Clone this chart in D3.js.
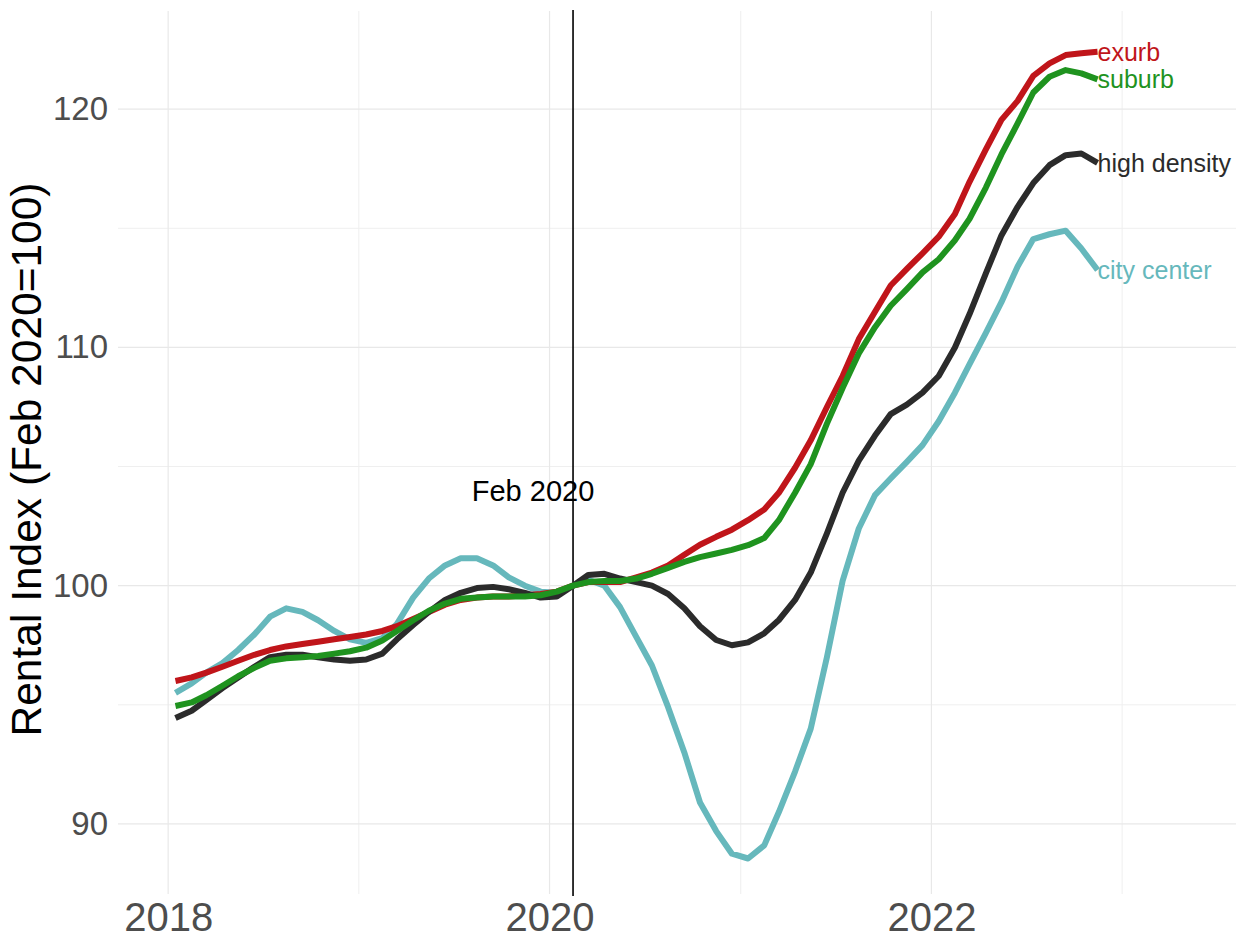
<!DOCTYPE html>
<html>
<head>
<meta charset="utf-8">
<script src="https://cdn.jsdelivr.net/npm/d3@7"></script>
<style>
  html, body { margin: 0; padding: 0; background: #ffffff; }
  svg { display: block; font-family: "Liberation Sans", Arial, Helvetica, sans-serif; }
</style>
</head>
<body>
<svg id="chart" width="1236" height="941"></svg>
<script>
// ---- Data (monthly, Jan 2018 .. Nov 2022) ----
const startYear = 2018;
const startMonth = 0; // January
const seriesNames = ["city center", "exurb", "high density", "suburb"];
const cityCenter = [95.5, 95.9, 96.35, 96.75, 97.3, 97.95, 98.7, 99.05, 98.9, 98.55,
  98.1, 97.75, 97.6, 97.8, 98.4, 99.5, 100.3, 100.85, 101.15, 101.15,
  100.85, 100.35, 100.0, 99.75, 99.7, 100.0, 100.25, 100.0, 99.1, 97.85,
  96.65, 94.9, 93.0, 90.9, 89.7, 88.75, 88.55, 89.1, 90.5, 92.2,
  94.0, 97.0, 100.2, 102.4, 103.8, 104.5, 105.2, 105.9, 106.9, 108.1,
  109.3, 110.6, 111.9, 113.4, 114.55, 114.75, 114.9, 114.15, 113.25];
const exurb = [96.0, 96.15, 96.35, 96.6, 96.85, 97.1, 97.3, 97.45, 97.55, 97.65,
  97.75, 97.85, 97.95, 98.1, 98.3, 98.6, 98.9, 99.2, 99.4, 99.5,
  99.55, 99.55, 99.6, 99.65, 99.75, 100.0, 100.15, 100.15, 100.15, 100.35,
  100.55, 100.85, 101.3, 101.72, 102.05, 102.35, 102.75, 103.2, 103.9, 104.95,
  106.1, 107.5, 108.8, 110.35, 111.5, 112.6, 113.3, 113.95, 114.65, 115.6,
  116.95, 118.3, 119.55, 120.35, 121.4, 121.92, 122.27, 122.35, 122.41];
const highDensity = [94.45, 94.75, 95.2, 95.7, 96.15, 96.6, 97.0, 97.1, 97.1, 97.0,
  96.9, 96.85, 96.9, 97.15, 97.75, 98.35, 98.9, 99.4, 99.7, 99.9,
  99.95, 99.85, 99.7, 99.5, 99.55, 100.0, 100.45, 100.5, 100.3, 100.15,
  100.0, 99.65, 99.05, 98.3, 97.72, 97.5, 97.62, 98.0, 98.56, 99.4,
  100.55, 102.2, 103.9, 105.25, 106.3, 107.2, 107.6, 108.1, 108.8, 110.0,
  111.4, 113.1, 114.7, 115.9, 116.9, 117.65, 118.07, 118.14, 117.75];
const suburb = [94.95, 95.1, 95.4, 95.8, 96.2, 96.55, 96.85, 96.95, 97.0, 97.05,
  97.15, 97.25, 97.4, 97.7, 98.1, 98.55, 98.95, 99.25, 99.45, 99.5,
  99.55, 99.55, 99.55, 99.6, 99.75, 100.0, 100.15, 100.2, 100.2, 100.3,
  100.5, 100.75, 101.0, 101.2, 101.35, 101.5, 101.7, 102.0, 102.75, 103.9,
  105.1, 106.8, 108.3, 109.75, 110.85, 111.75, 112.45, 113.15, 113.7, 114.5,
  115.4, 116.7, 118.1, 119.4, 120.7, 121.36, 121.64, 121.5, 121.25];
const seriesColors = ["#66b8bc", "#c0151a", "#2b2b2b", "#1f931f"];
const xTickYears = [2018, 2020, 2022];
const xMinorYears = [2019, 2021, 2023];
const yTicks = [90, 100, 110, 120];
const yMinorTicks = [95, 105, 115];
const eventDate = new Date(2020, 1, 15);
const eventLabel = "Feb 2020";
const yTitle = "Rental Index (Feb 2020=100)";

// ---- Build table ----
const seriesValues = [cityCenter, exurb, highDensity, suburb];
const series = seriesNames.map((name, k) => ({
  name,
  color: seriesColors[k],
  points: seriesValues[k].map((v, i) => ({ date: new Date(startYear, startMonth + i, 15), value: v }))
}));

// ---- Layout ----
const svg = d3.select("#chart");
const panel = { left: 118, right: 1236, top: 11, bottom: 894 };

const x = d3.scaleTime()
  .domain([new Date(2017, 8, 27), new Date(2023, 7, 7)])
  .range([panel.left, panel.right]);
const y = d3.scaleLinear()
  .domain([87.06, 124.12])
  .range([panel.bottom, panel.top]);

// Grid
const grid = svg.append("g");
grid.selectAll("line.ymin").data(yMinorTicks).join("line")
  .attr("x1", panel.left).attr("x2", panel.right)
  .attr("y1", d => y(d)).attr("y2", d => y(d))
  .attr("stroke", "#efefef").attr("stroke-width", 1);
grid.selectAll("line.xmin").data(xMinorYears).join("line")
  .attr("x1", d => x(new Date(d, 0, 1))).attr("x2", d => x(new Date(d, 0, 1)))
  .attr("y1", panel.top).attr("y2", panel.bottom)
  .attr("stroke", "#efefef").attr("stroke-width", 1);
grid.selectAll("line.ymaj").data(yTicks).join("line")
  .attr("x1", panel.left).attr("x2", panel.right)
  .attr("y1", d => y(d)).attr("y2", d => y(d))
  .attr("stroke", "#e8e8e8").attr("stroke-width", 1.2);
grid.selectAll("line.xmaj").data(xTickYears).join("line")
  .attr("x1", d => x(new Date(d, 0, 1))).attr("x2", d => x(new Date(d, 0, 1)))
  .attr("y1", panel.top).attr("y2", panel.bottom)
  .attr("stroke", "#e8e8e8").attr("stroke-width", 1.2);

// Axes (text only, ggplot minimal style)
const yAxis = svg.append("g")
  .attr("transform", `translate(${panel.left - 10},0)`)
  .call(d3.axisLeft(y).tickValues(yTicks).tickSize(0).tickPadding(0).tickFormat(d3.format("d")));
yAxis.select(".domain").remove();
yAxis.selectAll("text")
  .attr("font-size", 33).attr("fill", "#4d4d4d")
  .attr("font-family", "Liberation Sans, Arial, sans-serif");

const xAxis = svg.append("g")
  .attr("transform", `translate(0,${panel.bottom + 9})`)
  .call(d3.axisBottom(x).tickValues(xTickYears.map(d => new Date(d, 0, 1))).tickSize(0).tickPadding(0).tickFormat(d3.timeFormat("%Y")));
xAxis.select(".domain").remove();
xAxis.selectAll("text")
  .attr("font-size", 40).attr("fill", "#4d4d4d")
  .attr("font-family", "Liberation Sans, Arial, sans-serif");

// Y title
svg.append("text")
  .attr("transform", `translate(41,${(panel.top + panel.bottom) / 2 + 7}) rotate(-90)`)
  .attr("text-anchor", "middle")
  .attr("font-size", 42.5)
  .attr("fill", "#000")
  .text(yTitle);

// Event line
svg.append("line")
  .attr("x1", x(eventDate)).attr("x2", x(eventDate))
  .attr("y1", panel.top - 1).attr("y2", panel.bottom + 2)
  .attr("stroke", "#000").attr("stroke-width", 1.6);
svg.append("text")
  .attr("x", x(eventDate) - 40).attr("y", 501)
  .attr("text-anchor", "middle")
  .attr("font-size", 29)
  .attr("fill", "#000")
  .text(eventLabel);

// Lines
const line = d3.line().x(d => x(d.date)).y(d => y(d.value));
svg.append("g").selectAll("path").data(series).join("path")
  .attr("d", d => line(d.points))
  .attr("fill", "none")
  .attr("stroke", d => d.color)
  .attr("stroke-width", 6)
  .attr("stroke-linejoin", "round");

// End labels
svg.append("g").selectAll("text").data(series).join("text")
  .attr("x", d => x(d.points[d.points.length - 1].date))
  .attr("y", d => y(d.points[d.points.length - 1].value))
  .attr("dy", "0.36em")
  .attr("font-size", 25)
  .attr("fill", d => d.color)
  .text(d => d.name);
</script>
</body>
</html>
